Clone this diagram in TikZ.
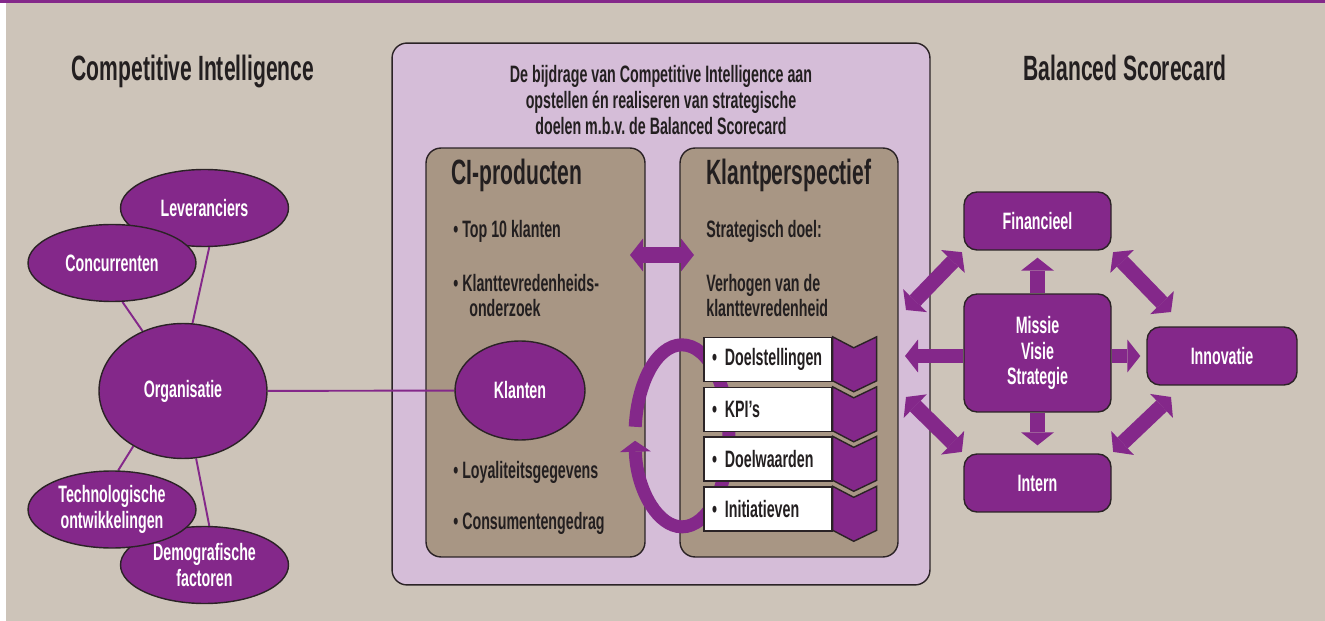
\documentclass[tikz,border=0pt]{standalone}
\usepackage{fontspec}
\setmainfont{Liberation Sans}[FakeStretch=0.6,UprightFont={* Bold}]
\usetikzlibrary{shapes.geometric}
\usetikzlibrary{arrows.meta}

\definecolor{ciPurple}{HTML}{84288A}
\definecolor{lilac}{HTML}{D5BDD8}
\definecolor{sand}{HTML}{CDC4B9}
\definecolor{taupe}{HTML}{A89684}
\definecolor{rim}{HTML}{2B2326}
\definecolor{ink}{HTML}{231F20}

\pgfdeclarelayer{back}
\pgfdeclarelayer{lines}
\pgfsetlayers{back,lines,main}

\begin{document}
\begin{tikzpicture}[x=0.02cm,y=-0.02cm,font=\fontsize{13.5}{14.7}\selectfont,text=ink]
\tikzset{bubble/.style = {ellipse,draw=rim,line width=0.8pt,fill=ciPurple,text=white,align=center,inner sep=0pt,minimum width=3.36cm,minimum height=1.54cm}}
\tikzset{tile/.style = {rectangle,rounded corners=0.26cm,draw=rim,line width=0.8pt,fill=ciPurple,text=white,align=center,minimum width=2.94cm,minimum height=1.16cm}}
\tikzset{panel/.style = {rectangle,rounded corners=0.3cm,draw=rim,line width=0.8pt,inner sep=0pt}}
\tikzset{itembox/.style = {rectangle,draw=rim,line width=0.8pt,fill=white,minimum height=0.88cm,text width=2.24cm,inner xsep=0.16cm,inner ysep=0pt,align=left}}
\tikzset{chevron/.style = {draw=rim,line width=0.8pt,fill=ciPurple}}
\tikzset{link/.style = {draw=ciPurple,line width=1.1pt}}
\tikzset{blockarrow/.style = {draw=ciPurple,line width=0.3cm,>={Triangle[width=0.66cm,length=0.26cm,line width=0pt]},->}}
\tikzset{twoway/.style = {blockarrow,<->}}
\tikzset{txt/.style = {anchor=base west,inner sep=0pt}}
\tikzset{heading/.style = {font=\fontsize{20}{22}\selectfont}}

% page and middle panels
\begin{pgfonlayer}{back}
\useasboundingbox (0,0) rectangle (1325,621);
\fill[white] (0,0) rectangle (1325,621);
\fill[sand] (6,3) rectangle (1325,621);
\fill[ciPurple] (0,0) rectangle (1325,3);
\node[panel,fill=lilac,minimum width=10.76cm,minimum height=10.84cm] (bsc) at (661,314) {};
\node[panel,fill=taupe,minimum width=4.38cm,minimum height=8.18cm] (ciprod) at (535.5,352.5) {};
\node[panel,fill=taupe,minimum width=4.36cm,minimum height=8.18cm] (klant) at (789,352.5) {};
\end{pgfonlayer}

% titles
\node[heading,anchor=base] (citit) at (193,81) {Competitive Intelligence};
\node[heading,anchor=base] (bsctit) at (1125,81) {Balanced Scorecard};
\node[align=center] (bijdrage) at (661,100) {De bijdrage van Competitive Intelligence aan\\opstellen én realiseren van strategische\\doelen m.b.v.\,de Balanced Scorecard};

\node[txt,heading] (cihead) at (451,185) {CI-producten};
\node[txt,heading] (klhead) at (706,185) {Klantperspectief};

% CI-producten
\node[txt] (top10) at (453,238) {• Top 10 klanten};
\node[txt] (tevr) at (453,292) {• Klanttevredenheids-};
\node[txt] (tevrb) at (469,317) {onderzoek};
\node[txt] (loyal) at (453,478) {• Loyaliteitsgegevens};
\node[txt] (cons) at (453,529) {• Consumentengedrag};

% Klantperspectief
\node[txt] (sdoel) at (706,238) {Strategisch doel:};
\node[txt] (verh) at (706,292) {Verhogen van de};
\node[txt] (verhb) at (706,317) {klanttevredenheid};

% environment of the organisation
\node[bubble] (lev) at (204.5,208) {Leveranciers};
\node[bubble] (conc) at (112,263) {Concurrenten};
\node[bubble,minimum height=2.7cm] (org) at (183,391) {Organisatie};
\node[bubble] (demo) at (204.5,565) {Demografische\\factoren};
\node[bubble] (tech) at (112,509.5) {Technologische\\ontwikkelingen};
\node[bubble,minimum width=2.6cm,minimum height=1.98cm] (klanten) at (520,390.5) {Klanten};

\begin{pgfonlayer}{lines}
\draw[link] (org) -- (klanten);
\draw[link] (lev.-83) -- (org.82);
\draw[link] (conc.-75) -- (org.124);
\draw[link] (tech.81) -- (org.-132);
\draw[link] (demo.83) -- (org.-79);
\end{pgfonlayer}

% exchange between both boxes
\coordinate (cileft) at (630,255);
\coordinate (klright) at (694,255);
\draw[twoway,line width=0.32cm] (cileft) -- (klright);

% cycle round the steps
\coordinate (cyclestart) at (635.2,426.8);
\draw[draw=ciPurple,line width=0.26cm,-{Triangle[width=0.62cm,length=0.22cm,line width=0pt]}]
  (cyclestart) arc[start angle=185.7,end angle=536.9,x radius=47,y radius=91];

\foreach \nm/\yy/\txt in {doel/359.5/Doelstellingen,kpi/409.5/KPI’s,waarde/459/Doelwaarden,init/509/Initiatieven}{
  \node[itembox] (\nm) at (768,\yy) {• \txt};
  \draw[chevron] (\nm.north east) -- ++(21,11) -- ++(23,-11) -- ++(0,44) -- ++(-23,11) -- ++(-21,-11) -- cycle;
}

% balanced scorecard
\node[tile,minimum height=2.36cm] (missie) at (1037.5,353) {Missie\\Visie\\Strategie};
\node[tile] (fin) at (1037.5,221) {Financieel};
\node[tile] (intern) at (1037.5,483) {Intern};
\node[tile,minimum width=3cm] (inno) at (1222,356) {Innovatie};

\coordinate (lfree) at (905,356);
\coordinate (lup) at (906,310);
\coordinate (ldown) at (906,397);
\coordinate (rup) at (1171,312);
\coordinate (rdown) at (1171,397);

\draw[blockarrow,shorten >=0.14cm] (missie) -- (fin);
\draw[blockarrow,shorten >=0.16cm] (missie) -- (intern);
\draw[blockarrow,shorten >=0.12cm] (missie.east |- inno) -- (inno.west);
\draw[blockarrow] (missie.west |- lfree) -- (lfree);
\draw[twoway,shorten >=0.04cm] (lup) -- (fin.south west);
\draw[twoway,shorten <=0.04cm] (fin.south east) -- (rup);
\draw[twoway,shorten >=0.04cm] (ldown) -- (intern.north west);
\draw[twoway,shorten >=0.04cm] (rdown) -- (intern.north east);
\end{tikzpicture}
\end{document}
